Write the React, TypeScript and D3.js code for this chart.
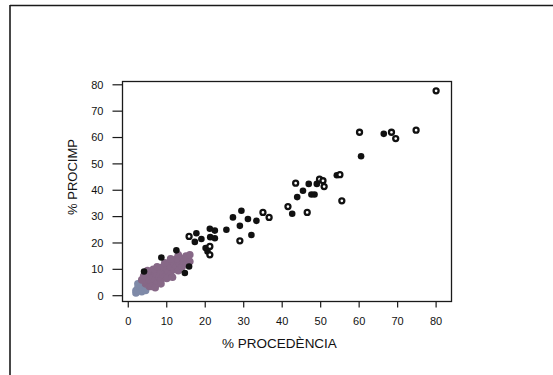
import React, { useMemo } from 'react';
import * as d3 from 'd3';

// % PROCEDÈNCIA vs % PROCIMP
const xTicks = [0, 10, 20, 30, 40, 50, 60, 70, 80];
const yTicks = [0, 10, 20, 30, 40, 50, 60, 70, 80];

// solid black markers
const filledPoints: [number, number][] = [
  [66.4, 61.4], [60.5, 52.9], [54.2, 45.7], [46.9, 42.4], [49.0, 42.4],
  [45.4, 39.8], [47.6, 38.4], [48.4, 38.4], [43.9, 37.4], [42.6, 31.1],
  [29.4, 32.2], [27.2, 29.7], [31.1, 29.1], [33.3, 28.4], [29.0, 26.5],
  [25.5, 25.0], [32.0, 23.0], [21.2, 25.4], [22.5, 24.7], [21.3, 22.2],
  [22.5, 21.8], [19.0, 21.5], [17.7, 23.7], [17.3, 20.4], [20.1, 18.1],
  [20.6, 16.8], [8.6, 14.5], [12.5, 17.2], [14.7, 8.6], [15.8, 11.1],
  [4.1, 9.2],
];

// ring markers (black outline, small white centre)
const ringPoints: [number, number][] = [
  [80.0, 77.7], [60.1, 62.0], [68.4, 62.0], [69.5, 59.6], [74.8, 62.8],
  [55.0, 45.9], [43.5, 42.7], [49.7, 44.2], [50.6, 43.6], [50.9, 41.4],
  [55.5, 36.0], [41.5, 33.8], [46.5, 31.6], [35.0, 31.6], [36.6, 29.7],
  [29.0, 20.8], [15.8, 22.5], [21.2, 18.7], [21.2, 15.5],
];

// dense overlapping cluster near the origin (printed in mauve)
const clusterPoints: [number, number][] = [
  [4.5, 4.5], [5, 5], [5, 7], [5.5, 3.5], [5.5, 6], [6, 8], [6, 5],
  [6.5, 7], [7, 6], [7, 9], [7.5, 4.5], [7.5, 8], [8, 7], [8, 10], [8.5, 6],
  [8.5, 9], [9, 8], [9, 11], [9.5, 7], [10, 10], [10, 12], [10.5, 9],
  [11, 11], [11, 8], [11.5, 13], [12, 10], [12, 12], [12.5, 11], [13, 13],
  [13, 9.5], [13.5, 12], [14, 14], [14, 11], [14.5, 13], [15, 15], [15, 12],
  [15.5, 14], [16, 13], [3.5, 6], [4, 7.5], [4.5, 8.5], [6.5, 10], [9.5, 12.5],
  [6, 3.5], [7, 3], [8.5, 4.5], [10, 6.5], [11.5, 7], [12.5, 14], [16, 15.5],
  [5, 9.5], [7.5, 11], [11, 14], [13, 15.5],
];
const clusterLowPoints: [number, number][] = [
  [2, 2], [2.5, 3], [3, 2.5], [3, 4], [3.5, 5], [4, 3], [2.5, 4.5], [3.5, 1.5],
  [4.5, 2], [2, 1],
];

const W = 553;
const H = 375;
const font = '"Liberation Sans", Arial, sans-serif';

export default function App() {
  const x = useMemo(() => d3.scaleLinear().domain([-1.5, 84]).range([122.5, 451.5]), []);
  const y = useMemo(() => d3.scaleLinear().domain([-2.2, 81.25]).range([301.5, 81.5]), []);
  const [x0, x1] = x.range();
  const [y0, y1] = y.range();

  return (
    <svg width={W} height={H} style={{ position: 'absolute', left: 0, top: 0, display: 'block', background: '#fff' }}>
      {/* outer frame (right and bottom edges fall outside the crop) */}
      <line x1={10} y1={5.5} x2={W} y2={5.5} stroke="#1a1a1a" strokeWidth={1.6} />
      <line x1={10} y1={5} x2={10} y2={H} stroke="#1a1a1a" strokeWidth={1.6} />

      {/* plot box */}
      <rect x={x0} y={y1} width={x1 - x0} height={y0 - y1} fill="none" stroke="#1a1a1a" strokeWidth={1.3} />

      {/* y axis */}
      {yTicks.map(t => (
        <g key={`y${t}`}>
          <line x1={x0 - 10} x2={x0} y1={y(t)} y2={y(t)} stroke="#1a1a1a" strokeWidth={1.2} />
          <text x={x0 - 19} y={y(t)} dy="0.35em" textAnchor="end" fontFamily={font} fontSize={11} fill="#111">
            {t}
          </text>
        </g>
      ))}
      <text
        transform={`translate(77,177) rotate(-90)`}
        textAnchor="middle"
        fontFamily={font}
        fontSize={13}
        fill="#111"
      >
        % PROCIMP
      </text>

      {/* x axis */}
      {xTicks.map(t => (
        <g key={`x${t}`}>
          <line x1={x(t)} x2={x(t)} y1={y0} y2={y0 + 6} stroke="#1a1a1a" strokeWidth={1.2} />
          <text x={x(t)} y={325} textAnchor="middle" fontFamily={font} fontSize={11} fill="#111">
            {t}
          </text>
        </g>
      ))}
      <text x={279.5} y={348} textAnchor="middle" fontFamily={font} fontSize={13.5} fill="#111">
        % PROCEDÈNCIA
      </text>

      {/* cluster */}
      {clusterLowPoints.map((d, i) => (
        <circle key={`cl${i}`} cx={x(d[0])} cy={y(d[1])} r={3.8} fill="#7f8aa8" />
      ))}
      {clusterPoints.map((d, i) => (
        <circle key={`c${i}`} cx={x(d[0])} cy={y(d[1])} r={3.8} fill="#876887" />
      ))}

      {/* markers */}
      {filledPoints.map((d, i) => (
        <circle key={`f${i}`} cx={x(d[0])} cy={y(d[1])} r={3.3} fill="#111" />
      ))}
      {ringPoints.map((d, i) => (
        <circle key={`r${i}`} cx={x(d[0])} cy={y(d[1])} r={2.5} fill="#fff" stroke="#111" strokeWidth={2.3} />
      ))}
    </svg>
  );
}
